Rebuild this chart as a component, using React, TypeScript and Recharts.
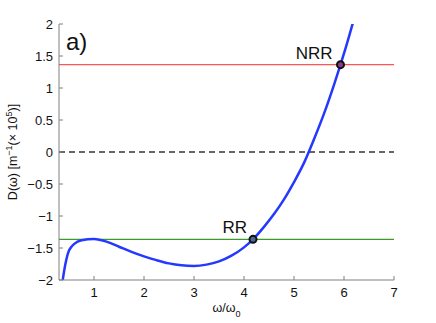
import React from "react"
import {
  ComposedChart,
  Line,
  XAxis,
  YAxis,
  ReferenceLine,
  ReferenceDot,
} from "recharts"

// normalised frequency ω/ω0
const omega = [
  0.36, 0.4, 0.45, 0.5, 0.55, 0.6, 0.75, 1.0, 1.25, 1.5, 1.75, 2.0, 2.25, 2.5, 2.75, 3.0,
  3.25, 3.5, 3.75, 4.0, 4.18, 4.4, 4.6, 4.8, 5.0, 5.2, 5.4, 5.6, 5.8, 5.93, 6.05, 6.2,
]
// D(ω) in units of 1e5 m^-1
const dispersion = [
  -2.08, -1.87, -1.67, -1.54, -1.48, -1.44, -1.38, -1.36, -1.4, -1.48, -1.56, -1.63, -1.69,
  -1.74, -1.77, -1.78, -1.76, -1.71, -1.62, -1.49, -1.365, -1.17, -0.97, -0.74, -0.47, -0.17,
  0.2, 0.6, 1.05, 1.365, 1.67, 2.08,
]

const nrrLevel = 1.365
const rrLevel = -1.365
const rrOmega = 4.18
const nrrOmega = 5.93

const xTicks = [1, 2, 3, 4, 5, 6, 7]
const yTicks = [-2, -1.5, -1, -0.5, 0, 0.5, 1, 1.5, 2]

const data = omega.map((w, i) => ({ w, d: dispersion[i] }))

const FONT = "'Liberation Sans', Arial, Helvetica, sans-serif"
const AXIS = "#808080"

const fmtY = (v: number) => (v < 0 ? "\u2212" + Math.abs(v) : String(v))

const dotLabel = (text: string, dx: number, dy: number) => (props: any) => {
  const vb = props.viewBox || {}
  const cx = vb.x + (vb.width || 0) / 2
  const cy = vb.y + (vb.height || 0) / 2
  return (
    <text x={cx + dx} y={cy + dy} textAnchor="end" fontSize={17} fill="#111" fontFamily={FONT}>
      {text}
    </text>
  )
}

const YLabel = (props: any) => {
  const vb = props.viewBox || {}
  const x = 17
  const y = vb.y + vb.height / 2
  return (
    <text
      x={x}
      y={y}
      transform={`rotate(-90, ${x}, ${y})`}
      textAnchor="middle"
      fontSize={12.5}
      fill="#111"
      fontFamily={FONT}
    >
      D(ω) [m
      <tspan dy={-5} fontSize={9}>−1</tspan>
      <tspan dy={5}>(× 10</tspan>
      <tspan dy={-5} fontSize={9}>5</tspan>
      <tspan dy={5}>)]</tspan>
    </text>
  )
}

const XLabel = (props: any) => {
  const vb = props.viewBox || {}
  const x = vb.x + vb.width / 2
  return (
    <text x={x} y={312} textAnchor="middle" fontSize={12.5} fill="#111" fontFamily={FONT}>
      ω/ω
      <tspan dy={5} fontSize={9}>0</tspan>
    </text>
  )
}

export default function App() {
  return (
    <div style={{ position: "absolute", left: 0, top: 0, width: 436, height: 323, background: "#fff", fontFamily: FONT }}>
      <ComposedChart width={436} height={323} data={data} margin={{ top: 24, right: 42, bottom: 0, left: 0 }}>
        <XAxis
          dataKey="w"
          type="number"
          domain={[0.3, 7]}
          ticks={xTicks}
          allowDataOverflow
          height={43}
          stroke={AXIS}
          tickSize={-4}
          tickMargin={12}
          tick={{ fill: "#111", fontSize: 13 }}
          label={<XLabel />}
        />
        <XAxis
          xAxisId="top"
          orientation="top"
          dataKey="w"
          type="number"
          domain={[0.3, 7]}
          ticks={xTicks}
          allowDataOverflow
          height={0}
          stroke={AXIS}
          tickSize={-4}
          tick={false}
        />
        <YAxis
          type="number"
          domain={[-2, 2]}
          ticks={yTicks}
          allowDataOverflow
          width={59}
          stroke={AXIS}
          tickSize={-4}
          tickMargin={10}
          tickFormatter={fmtY}
          tick={{ fill: "#111", fontSize: 13 }}
          label={<YLabel />}
        />
        <YAxis
          yAxisId="right"
          orientation="right"
          type="number"
          domain={[-2, 2]}
          ticks={yTicks}
          allowDataOverflow
          width={0}
          stroke={AXIS}
          tickSize={-4}
          tick={false}
        />
        <ReferenceLine y={nrrLevel} stroke="#ff5555" strokeWidth={1.3} />
        <ReferenceLine y={rrLevel} stroke="#3c9a28" strokeWidth={1.3} />
        <ReferenceLine y={0} stroke="#333" strokeWidth={1.3} strokeDasharray="6 4" />
        <Line
          dataKey="d"
          type="monotone"
          stroke="#2438ff"
          strokeWidth={2.5}
          dot={false}
          isAnimationActive={false}
        />
        <ReferenceDot
          x={rrOmega}
          y={rrLevel}
          r={3.5}
          fill="#4a6a9a"
          stroke="#111"
          strokeWidth={2}
          label={dotLabel("RR", -6, -6)}
        />
        <ReferenceDot
          x={nrrOmega}
          y={nrrLevel}
          r={3.5}
          fill="#8a3a8a"
          stroke="#111"
          strokeWidth={2}
          label={dotLabel("NRR", -8, -6)}
        />
      </ComposedChart>
      <div style={{ position: "absolute", left: 66, top: 28, fontSize: 24, lineHeight: "28px", color: "#111" }}>a)</div>
    </div>
  )
}
